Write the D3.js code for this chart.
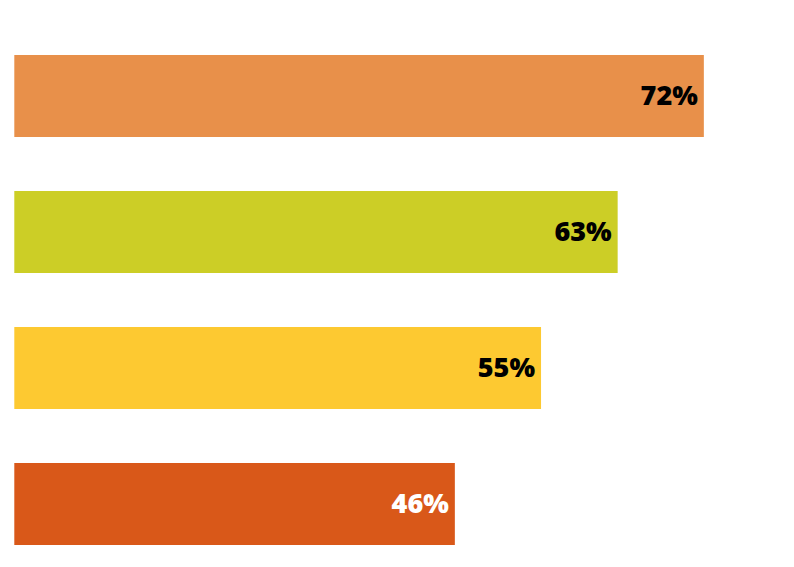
<!DOCTYPE html>
<html>
<head>
<meta charset="utf-8">
<script src="https://cdn.jsdelivr.net/npm/d3@7"></script>
<style>
  body { margin: 0; background: #fff; }
  .bar-label { font-family: "Open Sans", "Noto Sans", sans-serif; font-weight: 800; font-size: 27px; }
</style>
</head>
<body>
<div id="chart"></div>
<script>
// data
var categories = ['A', 'B', 'C', 'D'];
var values = [72, 63, 55, 46];
var colors = ['#E8904A', '#CCCE26', '#FDC931', '#D95819'];
var labelColors = ['#000', '#000', '#000', '#fff'];

var width = 794, height = 567;

var svg = d3.select('#chart').append('svg')
  .attr('width', width)
  .attr('height', height);

var x = d3.scaleLinear().domain([0, 100]).range([14.3, 972]);
var y = d3.scaleBand().domain(categories).range([28, 572])
  .paddingInner(0.397)
  .paddingOuter(0.1985);

var rows = svg.selectAll('.row')
  .data(values)
  .enter().append('g')
  .attr('class', 'row');

rows.append('rect')
  .attr('x', x(0))
  .attr('y', function(d, i) { return y(categories[i]); })
  .attr('width', function(d) { return x(d) - x(0); })
  .attr('height', y.bandwidth())
  .attr('fill', function(d, i) { return colors[i]; });

rows.append('text')
  .attr('class', 'bar-label')
  .attr('x', function(d) { return x(d) - 6; })
  .attr('y', function(d, i) { return y(categories[i]) + y.bandwidth() / 2 + 8.8; })
  .attr('text-anchor', 'end')
  .attr('fill', function(d, i) { return labelColors[i]; })
  .text(function(d) { return d + '%'; });
</script>
</body>
</html>
